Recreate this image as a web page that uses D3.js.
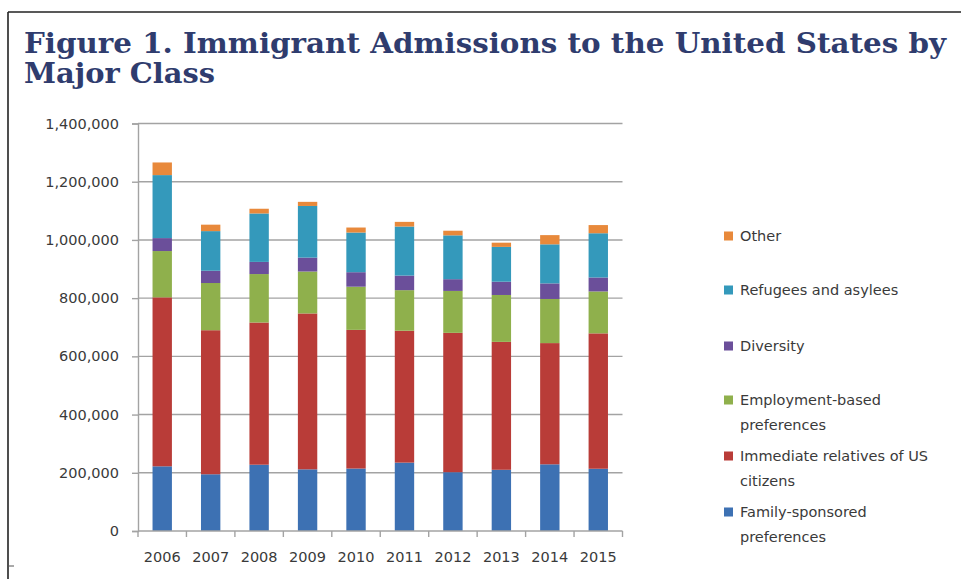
<!DOCTYPE html>
<html>
<head>
<meta charset="utf-8">
<script src="https://cdn.jsdelivr.net/npm/d3@7"></script>
<style>
  html, body { margin: 0; padding: 0; background: #fff; }
  svg { display: block; }
</style>
</head>
<body>
<svg id="chart" width="961" height="579"></svg>
<script>
const years = ["2006","2007","2008","2009","2010","2011","2012","2013","2014","2015"];
const familySponsored   = [222229,194900,227761,211859,214589,234931,202019,210303,229104,213910];
const immediateRelatives= [580483,494920,488483,535554,476414,453158,478780,439460,416456,465068];
const employmentBased   = [159081,162176,166511,144034,148343,139339,143998,161110,151596,144047];
const diversity         = [44471,42127,41761,47879,49763,50103,40320,45618,53490,47934];
const refugees          = [216454,136125,166392,177368,136291,168460,150614,119630,134242,151995];
const other             = [43411,22167,16218,14124,17225,16049,15900,14432,31630,28077];
const yTicks = [0,200000,400000,600000,800000,1000000,1200000,1400000];

const seriesNames = ["Family-sponsored preferences","Immediate relatives of US citizens","Employment-based preferences","Diversity","Refugees and asylees","Other"];
const seriesValues = [familySponsored, immediateRelatives, employmentBased, diversity, refugees, other];
const legendLines = [["Family-sponsored","preferences"],["Immediate relatives of US","citizens"],["Employment-based","preferences"],["Diversity"],["Refugees and asylees"],["Other"]];
const colors = ["#3d71b3","#b93c38","#8fb04c","#6b4f9a","#3499bb","#e8893b"];

const svg = d3.select("#chart");

// frame
svg.append("line").attr("x1",8).attr("x2",961).attr("y1",12).attr("y2",12).attr("stroke","#222").attr("stroke-width",1.6);
svg.append("line").attr("x1",8).attr("x2",8).attr("y1",12).attr("y2",579).attr("stroke","#222").attr("stroke-width",1.6);
svg.append("line").attr("x1",8).attr("x2",14).attr("y1",566).attr("y2",566).attr("stroke","#555").attr("stroke-width",1);

// title
svg.append("text").attr("x",24).attr("y",53)
  .attr("font-family","DejaVu Serif").attr("font-weight","bold").attr("font-size",28)
  .attr("fill","#2f3c6e").attr("textLength",922).attr("lengthAdjust","spacingAndGlyphs")
  .text("Figure 1. Immigrant Admissions to the United States by");
svg.append("text").attr("x",24).attr("y",83)
  .attr("font-family","DejaVu Serif").attr("font-weight","bold").attr("font-size",28)
  .attr("fill","#2f3c6e").attr("textLength",191).attr("lengthAdjust","spacingAndGlyphs")
  .text("Major Class");

const x0 = 138, x1 = 622.5, yB = 531, yT = 123.5;
const x = d3.scaleBand().domain(years).range([x0,x1]).paddingInner(0.6).paddingOuter(0.3);
const y = d3.scaleLinear().domain([0,1400000]).range([yB,yT]);

// gridlines
svg.append("g").selectAll("line").data(yTicks.slice(1)).join("line")
  .attr("x1",x0).attr("x2",x1).attr("y1",d=>y(d)).attr("y2",d=>y(d))
  .attr("stroke","#a3a3a3").attr("stroke-width",1.4);

// y axis
const yAxis = d3.axisLeft(y).tickValues(yTicks).tickSize(6).tickPadding(13).tickFormat(d3.format(","));
const gy = svg.append("g").attr("transform",`translate(${x0},0)`).call(yAxis);
gy.select(".domain").attr("stroke","#a3a3a3").attr("stroke-width",1.4);
gy.selectAll(".tick line").attr("stroke","#a3a3a3").attr("stroke-width",1.4);
gy.selectAll(".tick text").attr("font-family","DejaVu Sans").attr("font-size",14.5).attr("fill","#3a3a3a");

// stacked bars
const table = years.map((yr,i)=>{ const o={year:yr}; seriesNames.forEach((n,k)=>o[n]=seriesValues[k][i]); return o; });
const stack = d3.stack().keys(seriesNames)(table);
svg.append("g").selectAll("g").data(stack).join("g").attr("fill",(d,i)=>colors[i])
  .selectAll("rect").data(d=>d).join("rect")
  .attr("x",d=>x(d.data.year)).attr("width",x.bandwidth())
  .attr("y",d=>y(d[1])).attr("height",d=>y(d[0])-y(d[1]));

// x axis
const step = x.step();
const bounds = d3.range(years.length+1).map(i=>x0 + i*step);
svg.append("line").attr("x1",x0).attr("x2",x1).attr("y1",yB).attr("y2",yB).attr("stroke","#a3a3a3").attr("stroke-width",1.4);
svg.append("g").selectAll("line").data(bounds).join("line")
  .attr("x1",d=>d).attr("x2",d=>d).attr("y1",yB).attr("y2",yB+6)
  .attr("stroke","#a3a3a3").attr("stroke-width",1.4);
svg.append("g").selectAll("text").data(years).join("text")
  .attr("x",d=>x(d)+x.bandwidth()/2).attr("y",562).attr("text-anchor","middle")
  .attr("font-family","DejaVu Sans").attr("font-size",14.5).attr("fill","#3a3a3a")
  .text(d=>d);

// legend
const legendY = [512,456,400,346,290,236];
const lg = svg.append("g");
seriesNames.forEach((n,k)=>{
  lg.append("rect").attr("x",724).attr("y",legendY[k]-4.5).attr("width",9).attr("height",9).attr("fill",colors[k]);
  legendLines[k].forEach((t,j)=>{
    lg.append("text").attr("x",740).attr("y",legendY[k]+5+j*24.5)
      .attr("font-family","DejaVu Sans").attr("font-size",14.5).attr("fill","#3a3a3a").text(t);
  });
});
</script>
</body>
</html>
